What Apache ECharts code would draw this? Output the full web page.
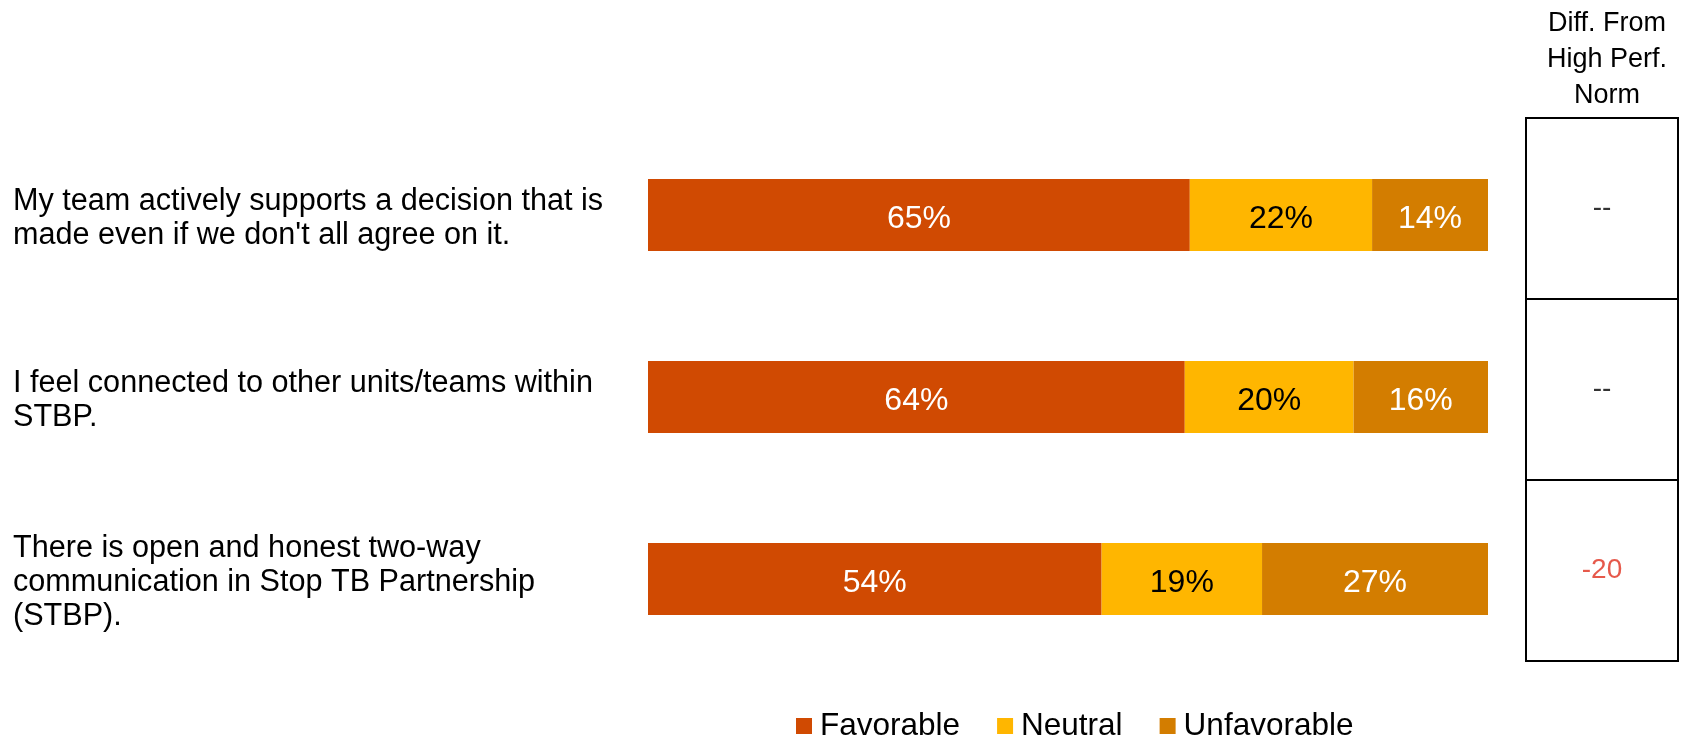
<!DOCTYPE html>
<html>
<head>
<meta charset="utf-8">
<script src="https://cdn.jsdelivr.net/npm/echarts@6/dist/echarts.min.js"></script>
<style>html,body{margin:0;padding:0;background:#fff;}#c{width:1683px;height:738px;}</style>
</head>
<body>
<div id="c"></div>
<script>
const categories = [
  "My team actively supports a decision that is made even if we don't all agree on it.",
  "I feel connected to other units/teams within STBP.",
  "There is open and honest two-way communication in Stop TB Partnership (STBP)."
];
const favorable = [64.5, 63.9, 54.0];
const neutral = [21.7, 20.1, 19.1];
const unfavorable = [13.8, 16.0, 26.9];
const diffs = [null, null, -20];
const diffHeader = "Diff. From\nHigh Perf.\nNorm";

const FONT = 'Arial, "Liberation Sans", sans-serif';
const chart = echarts.init(document.getElementById('c'));
const pct = p => Math.round(p.value) + '%';
function barLabel(color) {
  return { show: true, position: 'inside', formatter: pct, color: color, fontSize: 32, fontFamily: FONT, offset: [0, 4] };
}
chart.setOption({
  animation: false,
  textStyle: { fontFamily: FONT },
  title: {
    text: diffHeader, left: 1602, top: 1, textAlign: 'center',
    textStyle: { fontSize: 27, lineHeight: 36, fontWeight: 'normal', color: '#000', fontFamily: FONT }
  },
  legend: {
    data: ['Favorable', 'Neutral', 'Unfavorable'],
    left: 796, top: 710, padding: 0, itemWidth: 16, itemHeight: 16, itemGap: 37, icon: 'rect',
    textStyle: { fontSize: 31.5, color: '#000', fontFamily: FONT, padding: [0, 0, 0, 3] }
  },
  grid: [
    { left: 648, width: 840, top: 124, height: 546 },
    { left: 1526, width: 152, top: 118, height: 543, show: true, borderColor: '#000', borderWidth: 2, backgroundColor: 'transparent' },
    { left: 648, width: 840, top: 128, height: 546 }
  ],
  xAxis: [
    { gridIndex: 0, type: 'value', min: 0, max: 100, show: false },
    { gridIndex: 1, type: 'value', min: 0, max: 1, show: false },
    { gridIndex: 2, type: 'value', min: 0, max: 1, show: false }
  ],
  yAxis: [
    {
      gridIndex: 0, type: 'category', data: categories, inverse: true,
      axisLine: { show: false }, axisTick: { show: false }, splitLine: { show: false },
      axisLabel: { show: false }
    },
    {
      gridIndex: 1, type: 'category', data: categories, inverse: true,
      axisLine: { show: false }, axisTick: { show: false }, axisLabel: { show: false },
      splitLine: { show: true, lineStyle: { color: '#000', width: 2 } }
    },
    {
      gridIndex: 2, type: 'category', data: categories, inverse: true,
      axisLine: { show: false }, axisTick: { show: false }, splitLine: { show: false },
      axisLabel: {
        align: 'left', margin: 635, fontSize: 30.6, lineHeight: 34, width: 625, overflow: 'break',
        color: '#000', fontFamily: FONT
      }
    }
  ],
  series: [
    { name: 'Favorable', type: 'bar', stack: 's', data: favorable, barWidth: 72, itemStyle: { color: '#D04A02' }, label: barLabel('#fff') },
    { name: 'Neutral', type: 'bar', stack: 's', data: neutral, barWidth: 72, itemStyle: { color: '#FFB600' }, label: barLabel('#000') },
    { name: 'Unfavorable', type: 'bar', stack: 's', data: unfavorable, barWidth: 72, itemStyle: { color: '#D37D00' }, label: barLabel('#fff') },
    {
      type: 'scatter', xAxisIndex: 1, yAxisIndex: 1, symbolSize: 1, itemStyle: { color: 'rgba(0,0,0,0)' },
      data: diffs.map((d, i) => ({
        value: [0.5, i], diff: d,
        label: { color: d != null && d < 0 ? '#E0301E' : '#000' }
      })),
      label: {
        show: true, position: 'inside', fontSize: 28, fontFamily: FONT,
        formatter: p => p.data.diff == null ? '--' : String(p.data.diff)
      },
      silent: true
    }
  ]
});
</script>
</body>
</html>
